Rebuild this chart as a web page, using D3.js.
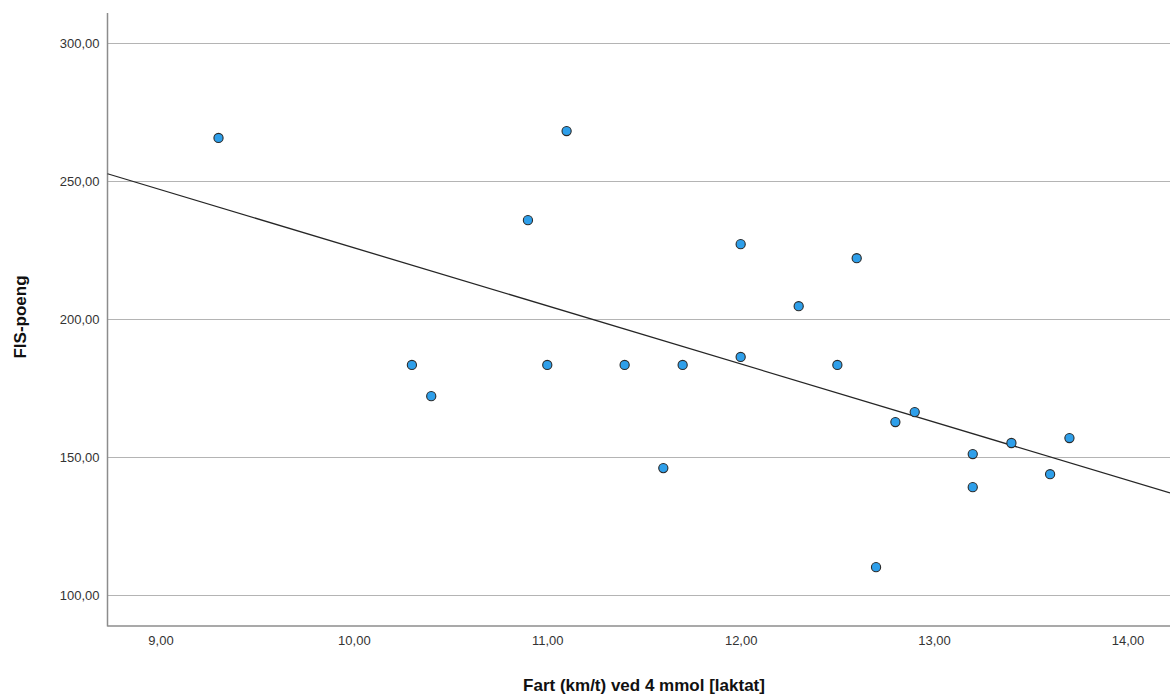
<!DOCTYPE html>
<html>
<head>
<meta charset="utf-8">
<script src="https://cdn.jsdelivr.net/npm/d3@7"></script>
<style>
  html, body { margin: 0; padding: 0; background: #fff; }
  svg { display: block; font-family: "Liberation Sans", Arial, sans-serif; }
</style>
</head>
<body>
<svg id="chart" width="1170" height="698"></svg>
<script>
// Data
const speed = [9.3, 10.3, 10.4, 10.9, 11.0, 11.1, 11.4, 11.6, 11.7, 12.0, 12.0, 12.3, 12.5, 12.6, 12.7, 12.8, 12.9, 13.2, 13.2, 13.4, 13.6, 13.7];
const fisPoints = [265.7, 183.4, 172.1, 235.9, 183.4, 268.2, 183.4, 146.0, 183.4, 227.2, 186.3, 204.7, 183.4, 222.1, 110.1, 162.7, 166.3, 151.1, 139.1, 155.1, 143.8, 156.9];
const xTicks = [9, 10, 11, 12, 13, 14];
const yTicks = [100, 150, 200, 250, 300];
const xTitle = "Fart (km/t) ved 4 mmol [laktat]";
const yTitle = "FIS-poeng";

const svg = d3.select("#chart");
const mLeft = 107.5, mRight = 1170, mTop = 13, mBottom = 626;

const x = d3.scaleLinear().domain([8.726, 14.22]).range([mLeft, mRight]);
const y = d3.scaleLinear().domain([88.76, 311.0]).range([mBottom, mTop]);

const fmt = d => d3.format(".2f")(d).replace(".", ",");

// Horizontal gridlines
svg.append("g")
  .selectAll("line")
  .data(yTicks)
  .join("line")
  .attr("x1", mLeft).attr("x2", mRight)
  .attr("y1", d => Math.round(y(d)) + 0.5).attr("y2", d => Math.round(y(d)) + 0.5)
  .attr("stroke", "#b4b4b4").attr("stroke-width", 1.2);

// Y axis
const yAxis = svg.append("g")
  .attr("transform", `translate(${mLeft},0)`)
  .call(d3.axisLeft(y).tickValues(yTicks).tickFormat(fmt).tickSize(0).tickPadding(8));
yAxis.select(".domain").remove();
yAxis.selectAll("text").attr("font-size", 13).attr("fill", "#333")
  .attr("font-family", '"Liberation Sans", Arial, sans-serif');

// X axis
const xAxis = svg.append("g")
  .attr("transform", `translate(0,${mBottom})`)
  .call(d3.axisBottom(x).tickValues(xTicks).tickFormat(fmt).tickSize(0).tickPadding(10));
xAxis.select(".domain").remove();
xAxis.selectAll("text").attr("font-size", 13).attr("fill", "#333")
  .attr("font-family", '"Liberation Sans", Arial, sans-serif');

// Axis lines
svg.append("line").attr("x1", mLeft).attr("x2", mLeft).attr("y1", mTop).attr("y2", mBottom + 0.5)
  .attr("stroke", "#8c8c8c").attr("stroke-width", 1.5);
svg.append("line").attr("x1", mLeft).attr("x2", mRight).attr("y1", mBottom).attr("y2", mBottom)
  .attr("stroke", "#8c8c8c").attr("stroke-width", 1.5);

// Regression line (least squares from data)
const mx = d3.mean(speed), my = d3.mean(fisPoints);
let sxy = 0, sxx = 0;
speed.forEach((v, i) => { sxy += (v - mx) * (fisPoints[i] - my); sxx += (v - mx) * (v - mx); });
const slope = sxy / sxx, intercept = my - slope * mx;
const [x0, x1] = x.domain();
svg.append("line")
  .attr("x1", x(x0)).attr("y1", y(intercept + slope * x0))
  .attr("x2", x(x1)).attr("y2", y(intercept + slope * x1))
  .attr("stroke", "#262626").attr("stroke-width", 1.3);

// Points
svg.append("g")
  .selectAll("circle")
  .data(speed.map((v, i) => [v, fisPoints[i]]))
  .join("circle")
  .attr("cx", d => x(d[0])).attr("cy", d => y(d[1]))
  .attr("r", 4.6)
  .attr("fill", "#2e9fea")
  .attr("stroke", "#2a2a2a").attr("stroke-width", 1.1);

// Titles
svg.append("text")
  .attr("x", 644).attr("y", 691)
  .attr("text-anchor", "middle")
  .attr("font-size", 17).attr("font-weight", "bold").attr("fill", "#111")
  .text(xTitle);

svg.append("text")
  .attr("transform", "translate(26,317) rotate(-90)")
  .attr("text-anchor", "middle")
  .attr("font-size", 17).attr("font-weight", "bold").attr("fill", "#111")
  .text(yTitle);
</script>
</body>
</html>
